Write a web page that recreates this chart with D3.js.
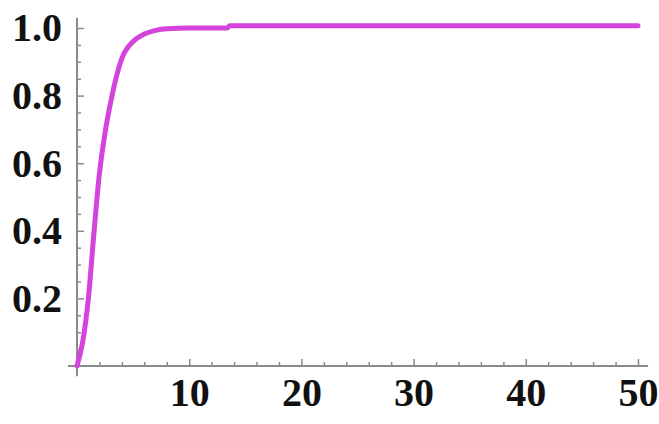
<!DOCTYPE html>
<html>
<head>
<meta charset="utf-8">
<script src="https://cdn.jsdelivr.net/npm/d3@7"></script>
<style>
  html, body { margin: 0; padding: 0; background: #ffffff; }
  svg { display: block; }
  .tick text { font-family: "Liberation Serif", "Times New Roman", serif; font-weight: bold; font-size: 40px; fill: #111; }
</style>
</head>
<body>
<svg id="chart" width="659" height="424"></svg>
<script>
// ---- data ----
const tValues = [0, 0.5, 1, 1.5, 2, 2.5, 3, 3.5, 4, 5, 6, 7, 8, 10, 13.4, 13.6, 20, 30, 40, 50];
const yValues = [0, 0.07, 0.195, 0.39, 0.57, 0.69, 0.78, 0.855, 0.91, 0.96, 0.982, 0.993, 0.998, 1.0, 1.0, 1.007, 1.007, 1.007, 1.007, 1.007];
const xMajorTicks = [10, 20, 30, 40, 50];
const xMinorTicks = [2, 4, 6, 8, 12, 14, 16, 18, 22, 24, 26, 28, 32, 34, 36, 38, 42, 44, 46, 48];
const yMajorTicks = [0.2, 0.4, 0.6, 0.8, 1.0];
const yMinorTicks = [0.05, 0.1, 0.15, 0.25, 0.3, 0.35, 0.45, 0.5, 0.55, 0.65, 0.7, 0.75, 0.85, 0.9, 0.95];
const xTickLabels = ["10", "20", "30", "40", "50"];
const yTickLabels = ["0.2", "0.4", "0.6", "0.8", "1.0"];

const svg = d3.select("#chart");
const x = d3.scaleLinear().domain([0, 50]).range([77, 638]);
const y = d3.scaleLinear().domain([0, 1]).range([366, 28]);
const axisColor = "#8a8a8a";

// axis lines (with small overhang, Mathematica style)
svg.append("line").attr("x1", x(-0.8)).attr("x2", x(50.9))
  .attr("y1", y(0)).attr("y2", y(0)).attr("stroke", axisColor).attr("stroke-width", 2);
svg.append("line").attr("x1", x(0)).attr("x2", x(0))
  .attr("y1", y(-0.03)).attr("y2", y(1.03)).attr("stroke", axisColor).attr("stroke-width", 2);

// x axis ticks (inward)
const gx = svg.append("g").attr("transform", `translate(0,${y(0)})`);
gx.call(d3.axisBottom(x).tickValues(xMajorTicks)
  .tickFormat((d, i) => xTickLabels[i]).tickSizeInner(-7).tickSizeOuter(0).tickPadding(12));
gx.select(".domain").remove();
gx.selectAll(".tick text").attr("dy", "0.71em");
const gxm = svg.append("g").attr("transform", `translate(0,${y(0)})`);
gxm.call(d3.axisBottom(x).tickValues(xMinorTicks).tickFormat("").tickSizeInner(-4).tickSizeOuter(0));
gxm.select(".domain").remove();

// y axis ticks (inward)
const gy = svg.append("g").attr("transform", `translate(${x(0)},0)`);
gy.call(d3.axisLeft(y).tickValues(yMajorTicks)
  .tickFormat((d, i) => yTickLabels[i]).tickSizeInner(-7).tickSizeOuter(0).tickPadding(15));
gy.select(".domain").remove();
const gym = svg.append("g").attr("transform", `translate(${x(0)},0)`);
gym.call(d3.axisLeft(y).tickValues(yMinorTicks).tickFormat("").tickSizeInner(-4).tickSizeOuter(0));
gym.select(".domain").remove();

svg.selectAll(".tick line").attr("stroke", axisColor).attr("stroke-width", 1.5);

// curve
const pts = tValues.map((t, i) => [t, yValues[i]]);
svg.append("path").datum(pts)
  .attr("fill", "none")
  .attr("stroke", "#d444dc")
  .attr("stroke-width", 5)
  .attr("stroke-linejoin", "round")
  .attr("stroke-linecap", "round")
  .attr("d", d3.line().x(d => x(d[0])).y(d => y(d[1])).curve(d3.curveMonotoneX));
</script>
</body>
</html>
